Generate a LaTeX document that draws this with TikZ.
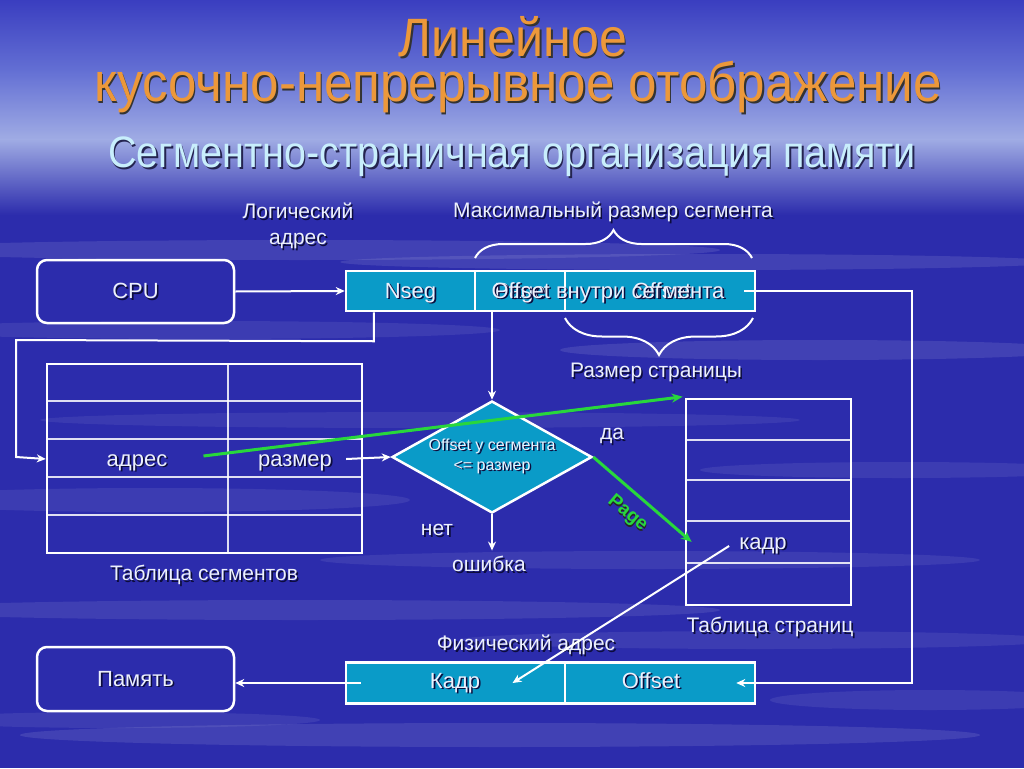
\documentclass[tikz,border=0pt]{standalone}
\usepackage{fontspec}
\setmainfont{Liberation Sans}
\newfontfamily\narrowfont[FakeStretch=0.93]{Liberation Sans}
\newfontfamily\subfont[FakeStretch=0.9]{Liberation Sans}
\usetikzlibrary{arrows.meta,shapes.geometric,decorations.pathreplacing}
\definecolor{bgblue}{RGB}{44,44,172}
\definecolor{bgtop}{RGB}{58,62,192}
\definecolor{bgmid}{RGB}{100,112,212}
\definecolor{bglight}{RGB}{160,172,228}
\definecolor{cellc}{RGB}{10,155,200}
\definecolor{txtc}{RGB}{236,240,252}
\definecolor{shadowc}{RGB}{12,12,60}
\definecolor{titlec}{RGB}{236,152,58}
\definecolor{subc}{RGB}{200,238,252}
\definecolor{grn}{RGB}{40,215,60}
\newcommand{\shd}[2][shadowc]{\makebox[0pt][l]{\kern1.6pt\raisebox{-1.6pt}{\textcolor{#1}{#2}}}#2}
\begin{document}
\begin{tikzpicture}[x=1pt,y=-1pt,
  txt/.style={text=txtc, font=\fontsize{21}{26}\selectfont, inner sep=0, align=center, text height=18pt, text depth=4.5pt},
  celltxt/.style={text=txtc, font=\fontsize{22}{26}\selectfont, text height=19.5pt, text depth=5pt},
  cellbox/.style={draw=white, line width=2.5, fill=cellc, inner sep=0, celltxt},
  rbox/.style={draw=white, line width=2.5, rounded corners=10, inner sep=0, celltxt},
  tabbox/.style={draw=white, line width=2.5, inner sep=0},
  thin/.style={draw=white, line width=1.1, opacity=0.85},
  arr/.style={draw=white, line width=2, -{Stealth[length=9pt,width=8pt]}},
  garr/.style={draw=grn, line width=3, -{Stealth[length=11pt,width=9pt]}},
  brc/.style={draw=white, line width=2, decorate}
]
\useasboundingbox (0,0) rectangle (1024,768);
% background
\fill[bgblue] (0,0) rectangle (1024,768);
\shade[top color=bgtop, bottom color=bgmid] (0,0) rectangle (1024,72);
\shade[top color=bgmid, bottom color=bglight] (0,71) rectangle (1024,140);
\shade[top color=bglight, bottom color=bgblue] (0,139) rectangle (1024,215);
\foreach \cx/\cy/\rx/\ry/\op in {300/250/420/10/0.10, 700/262/360/8/0.10, 200/330/300/9/0.08,
  820/350/260/10/0.10, 420/420/380/8/0.07, 150/500/260/12/0.08, 650/560/330/9/0.08,
  900/470/200/8/0.08, 300/610/420/10/0.09, 760/640/300/9/0.08, 500/735/480/12/0.10,
  120/720/200/8/0.08, 930/700/160/10/0.08}
  \fill[white, opacity=\op] (\cx,\cy) ellipse ({\rx} and {\ry});
% titles
\node[text=titlec, font=\narrowfont\fontsize{54}{60}\selectfont, inner sep=0] (t1) at (513,38) {\shd[black!80]{Линейное}};
\node[text=titlec, font=\narrowfont\fontsize{55}{60}\selectfont, inner sep=0] (t2) at (518,88) {\shd[black!80]{кусочно-непрерывное отображение}};
\node[text=subc, font=\subfont\fontsize{44}{50}\selectfont, inner sep=0] (t3) at (512,158) {\shd[shadowc!90]{Сегментно-страничная организация памяти}};
% labels
\node[txt] (lab1) at (298,238) {\shd{Логический}\\\shd{адрес}};
\node[txt] (lab2) at (613,211) {\shd{Максимальный размер сегмента}};
% boxes
\node[rbox, minimum width=197, minimum height=63] (cpu) at (135.5,291.5) {\shd{CPU}};
\node[cellbox, minimum width=129, minimum height=40] (nseg) at (410.5,291) {\shd{Nseg}};
\node[cellbox, minimum width=90, minimum height=40] (pg) at (520,291) {};
\node[cellbox, minimum width=190, minimum height=40] (off) at (660,291) {};
\node[celltxt, inner sep=0] (pgt) at (520,291) {\shd{Page}};
\node[celltxt, inner sep=0] (offt) at (662,291) {\shd{Offset}};
\node[celltxt, inner sep=0] (offin) at (608,291) {\shd{Offset внутри сегмента}};
% braces
\draw[brc, decoration={brace, amplitude=28pt}] (475,258) -- (752,258);
\draw[brc, decoration={brace, amplitude=37pt}] (753,318) -- (565,318);
\node[txt] (lab3) at (656,371) {\shd{Размер страницы}};
% segment table
\node[tabbox, minimum width=315, minimum height=189] (segtab) at (204.5,458.5) {};
\foreach \yy in {401,439,477,515} \draw[thin] (47,\yy) -- (362,\yy);
\draw[thin] (228,364) -- (228,553);
\node[celltxt, inner sep=0] (adres) at (137,459) {\shd{адрес}};
\node[celltxt, inner sep=0] (razm) at (295,459) {\shd{размер}};
\node[txt] (lab4) at (204,574) {\shd{Таблица сегментов}};
% diamond
\node[diamond, draw=white, line width=2.5, fill=cellc, minimum width=200, minimum height=112, inner sep=0, aspect=1.8,
  text=txtc, font=\fontsize{16}{20}\selectfont, align=center] (diam) at (492,457) {\shd{Offset у сегмента}\\\shd{<= размер}};
\node[txt] (net) at (437,529) {\shd{нет}};
\node[txt] (da) at (612,433) {\shd{да}};
\node[txt] (err) at (489,565) {\shd{ошибка}};
% page table
\node[tabbox, minimum width=165, minimum height=206] (pagetab) at (768.5,502) {};
\foreach \yy in {440,480,521,563} \draw[thin] (686,\yy) -- (851,\yy);
\node[celltxt, inner sep=0] (kadr) at (763,542) {\shd{кадр}};
\node[txt] (lab5) at (770,626) {\shd{Таблица страниц}};
% physical address
\node[txt] (lab6) at (526,644) {\shd{Физический адрес}};
\node[cellbox, minimum width=219, minimum height=41] (kadrp) at (455.5,683) {};
\node[cellbox, minimum width=190, minimum height=41] (poff) at (660,683) {};
\node[celltxt, inner sep=0] (kadrt) at (455,681) {\shd{Кадр}};
\node[celltxt, inner sep=0] (pofft) at (651,681) {\shd{Offset}};
\node[rbox, minimum width=197, minimum height=64] (mem) at (135.5,679) {\shd{Память}};
% connectors
\draw[arr] (cpu.east) -- (nseg.west);
\draw[arr] ([xshift=29pt]nseg.south west) -- ++(0,29) -- (16,340) -- (16,457) -- (segtab.west |- adres);
\draw[arr] ([xshift=14pt]razm.east) -- (diam.west);
\draw[arr] (diam.north |- pg.south) -- (diam.north);
\draw[arr] (diam.south) -- ([yshift=3pt]diam.south |- err.north);
\draw[arr] ([xshift=-12pt]off.east) -- (912,291) -- (912,683) -- ([xshift=-20pt]poff.east);
\draw[arr] ([xshift=16pt]kadrp.west) -- (mem.east |- kadrp.west);
\draw[arr] ([shift={(-10,4)}]kadr.west) -- ([xshift=57pt]kadrp.center);
\draw[garr] ([xshift=36pt,yshift=3pt]adres.east) -- ([xshift=-2pt,yshift=1pt]pagetab.north west);
\draw[garr] (diam.east) -- ([xshift=7pt]pagetab.west |- kadr);
\node[text=grn, font=\bfseries\fontsize{19}{21}\selectfont, rotate=-40, inner sep=0] (pglab) at (627,514) {\shd[black!85]{Page}};
\end{tikzpicture}
\end{document}
